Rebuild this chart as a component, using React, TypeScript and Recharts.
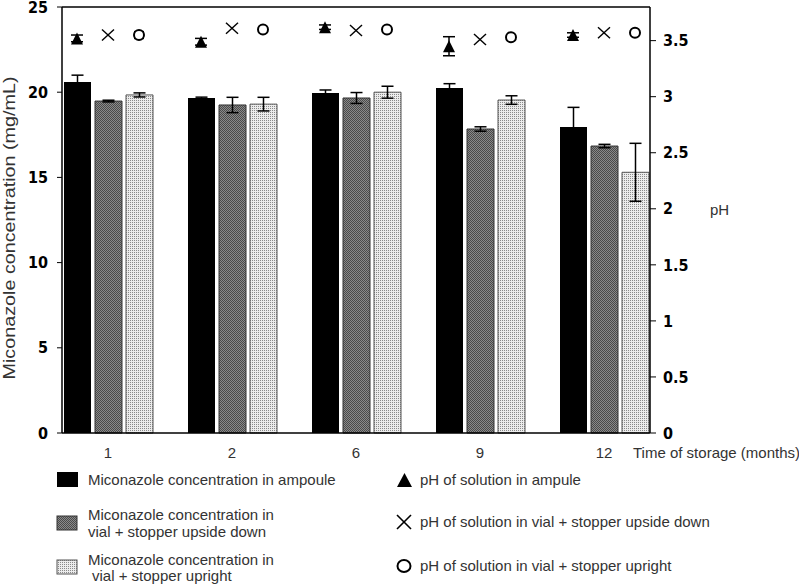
import React from 'react';
import { ComposedChart, Bar, Scatter, XAxis, YAxis, ErrorBar, ReferenceLine } from 'recharts';

const months = ['1', '2', '6', '9', '12'];
const concAmpoule = [20.6, 19.66, 19.95, 20.25, 17.96];
const concAmpouleErr = [0.4, 0.05, 0.18, 0.25, 1.15];
const concVialDown = [19.48, 19.25, 19.66, 17.84, 16.84];
const concVialDownErr = [0.05, 0.45, 0.32, 0.13, 0.1];
const concVialUp = [19.84, 19.3, 20.0, 19.54, 15.3];
const concVialUpErr = [0.12, 0.4, 0.35, 0.25, 1.7];
const phAmpoule = [3.52, 3.49, 3.62, 3.45, 3.55];
const phAmpouleErr = [0.03, 0.03, 0.02, 0.085, 0.02];
const phVialDown = [3.55, 3.61, 3.59, 3.51, 3.57];
const phVialUp = [3.55, 3.6, 3.6, 3.53, 3.57];
const phVialUpErr = [0.03, 0.01, 0.01, 0.01, 0.01];
const leftTicks = [0, 5, 10, 15, 20, 25];
const rightTicks = [0, 0.5, 1, 1.5, 2, 2.5, 3, 3.5];

const data = months.map((m, i) => ({
  month: m,
  cA: concAmpoule[i], cAErr: concAmpouleErr[i],
  cD: concVialDown[i], cDErr: concVialDownErr[i],
  cU: concVialUp[i], cUErr: concVialUpErr[i],
  pA: phAmpoule[i], pAErr: phAmpouleErr[i],
  pD: phVialDown[i],
  pU: phVialUp[i], pUErr: phVialUpErr[i],
}));

const TEXT_FONT = '"Liberation Sans", Arial, sans-serif';
const TICK_FONT = '"Liberation Sans Narrow", "DejaVu Sans Condensed", "Arial Narrow", sans-serif';
const TEXT_COLOR = '#333';

const Tri = (p: any) => {
  const { cx, cy } = p;
  if (cx == null || cy == null) return null;
  return <polygon points={`${cx - 6},${cy + 6} ${cx + 6},${cy + 6} ${cx},${cy - 6}`} fill="#000" />;
};
const Cross = (p: any) => {
  const { cx, cy } = p;
  if (cx == null || cy == null) return null;
  return (
    <g stroke="#000" strokeWidth={1.4}>
      <line x1={cx - 6} y1={cy - 5.5} x2={cx + 6} y2={cy + 5.5} />
      <line x1={cx - 6} y1={cy + 5.5} x2={cx + 6} y2={cy - 5.5} />
    </g>
  );
};
const Circ = (p: any) => {
  const { cx, cy } = p;
  if (cx == null || cy == null) return null;
  return <circle cx={cx} cy={cy} r={5} fill="#fff" stroke="#000" strokeWidth={2} />;
};

const Patterns = ({ prefix }: { prefix: string }) => (
  <defs>
    <pattern id={`${prefix}gray`} width="2" height="2" patternUnits="userSpaceOnUse">
      <rect width="2" height="2" fill="#8a8a8a" />
      <rect x="0" y="0" width="1" height="1" fill="#4a4a4a" />
      <rect x="1" y="1" width="1" height="1" fill="#4a4a4a" />
    </pattern>
    <pattern id={`${prefix}light`} width="2" height="2" patternUnits="userSpaceOnUse">
      <rect width="2" height="2" fill="#ececec" />
      <rect x="0" y="0" width="1" height="1" fill="#8a8a8a" />
    </pattern>
  </defs>
);

export default function App() {
  const tickStyle = { fontFamily: TICK_FONT, fontWeight: 700, fontSize: 16, fill: '#000' };
  return (
    <div style={{ position: 'absolute', left: 0, top: 0, width: 799, height: 585, background: '#fff' }}>
      <div style={{ position: 'absolute', left: 0, top: 0 }}>
        <ComposedChart
          width={799}
          height={585}
          data={data}
          margin={{ top: 7, right: 0, left: 0, bottom: 122 }}
          barGap={4}
        >
          <Patterns prefix="c-" />
          <XAxis
            xAxisId="main"
            dataKey="month"
            height={30}
            padding={{ left: -16, right: -16 }}
            tickLine={false}
            tickSize={6}
            tickMargin={8}
            axisLine={{ stroke: '#000', strokeWidth: 1.5 }}
            tick={{ fontFamily: TEXT_FONT, fontSize: 15, fill: TEXT_COLOR }}
          />
          <XAxis xAxisId="tri" dataKey="month" hide height={0} padding={{ left: -47, right: 15 }} />
          <XAxis xAxisId="circ" dataKey="month" hide height={0} padding={{ left: 15, right: -47 }} />
          <YAxis
            yAxisId="left"
            width={62}
            domain={[0, 25]}
            ticks={leftTicks}
            tickSize={5}
            tickMargin={9}
            axisLine={{ stroke: '#000', strokeWidth: 1.5 }}
            tickLine={{ stroke: '#000' }}
            tick={tickStyle}
            interval={0}
          />
          <YAxis
            yAxisId="right"
            orientation="right"
            width={149}
            domain={[0, 3.8]}
            ticks={rightTicks}
            tickSize={6}
            tickMargin={7}
            axisLine={{ stroke: '#000', strokeWidth: 1.5 }}
            tickLine={{ stroke: '#000' }}
            tick={tickStyle}
            interval={0}
          />
          <ReferenceLine yAxisId="left" xAxisId="main" y={25} stroke="#000" strokeWidth={1.5} />
          <Bar xAxisId="main" yAxisId="left" dataKey="cA" fill="#000" barSize={27} isAnimationActive={false}>
            <ErrorBar dataKey="cAErr" direction="y" width={6} stroke="#000" strokeWidth={1.5} />
          </Bar>
          <Bar xAxisId="main" yAxisId="left" dataKey="cD" fill="url(#c-gray)" stroke="#333" strokeWidth={1} barSize={27} isAnimationActive={false}>
            <ErrorBar dataKey="cDErr" direction="y" width={6} stroke="#000" strokeWidth={1.5} />
          </Bar>
          <Bar xAxisId="main" yAxisId="left" dataKey="cU" fill="url(#c-light)" stroke="#555" strokeWidth={1} barSize={27} isAnimationActive={false}>
            <ErrorBar dataKey="cUErr" direction="y" width={6} stroke="#000" strokeWidth={1.5} />
          </Bar>
          <Scatter xAxisId="tri" yAxisId="right" dataKey="pA" shape={Tri} isAnimationActive={false}>
            <ErrorBar dataKey="pAErr" direction="y" width={6} stroke="#000" strokeWidth={1.5} />
          </Scatter>
          <Scatter xAxisId="main" yAxisId="right" dataKey="pD" shape={Cross} isAnimationActive={false} />
          <Scatter xAxisId="circ" yAxisId="right" dataKey="pU" shape={Circ} isAnimationActive={false}>
            <ErrorBar dataKey="pUErr" direction="y" width={5} stroke="#000" strokeWidth={1.5} />
          </Scatter>
        </ComposedChart>
      </div>
      <svg
        width={799}
        height={585}
        style={{ position: 'absolute', left: 0, top: 0, pointerEvents: 'none' }}
        fontFamily={TEXT_FONT}
      >
        <Patterns prefix="l-" />
        <text
          transform="translate(15,228) rotate(-90)"
          textAnchor="middle"
          fontSize={16}
          fill={TEXT_COLOR}
          textLength={303}
          lengthAdjust="spacingAndGlyphs"
        >
          Miconazole concentration (mg/mL)
        </text>
        <text x={710} y={215} fontSize={15} fill={TEXT_COLOR}>pH</text>
        <text x={633} y={458} fontSize={15} fill={TEXT_COLOR}>Time of storage (months)</text>

        <rect x={57} y={472} width={21} height={15} fill="#000" />
        <text x={88} y={485} fontSize={15} fill={TEXT_COLOR}>Miconazole concentration in ampoule</text>

        <rect x={57} y={516} width={20} height={14} fill="url(#l-gray)" stroke="#333" strokeWidth={1} />
        <text x={88} y={520} fontSize={15} fill={TEXT_COLOR}>Miconazole concentration in</text>
        <text x={88} y={537} fontSize={15} fill={TEXT_COLOR}>vial + stopper upside down</text>

        <rect x={57} y={560} width={20} height={14} fill="url(#l-light)" stroke="#555" strokeWidth={1} />
        <text x={88} y={565} fontSize={15} fill={TEXT_COLOR}>Miconazole concentration in</text>
        <text x={92} y={581} fontSize={15} fill={TEXT_COLOR}>vial + stopper upright</text>

        <polygon points="397,487 412,487 404.5,473" fill="#000" />
        <text x={420} y={485} fontSize={15} fill={TEXT_COLOR}>pH of solution in ampule</text>

        <g stroke="#000" strokeWidth={1.6}>
          <line x1={397} y1={515} x2={411} y2={529} />
          <line x1={397} y1={529} x2={411} y2={515} />
        </g>
        <text x={420} y={527} fontSize={15} fill={TEXT_COLOR}>pH of solution in vial + stopper upside down</text>

        <ellipse cx={404} cy={566} rx={6.5} ry={6} fill="#fff" stroke="#000" strokeWidth={2} />
        <text x={420} y={571} fontSize={15} fill={TEXT_COLOR}>pH of solution in vial + stopper upright</text>
      </svg>
    </div>
  );
}
